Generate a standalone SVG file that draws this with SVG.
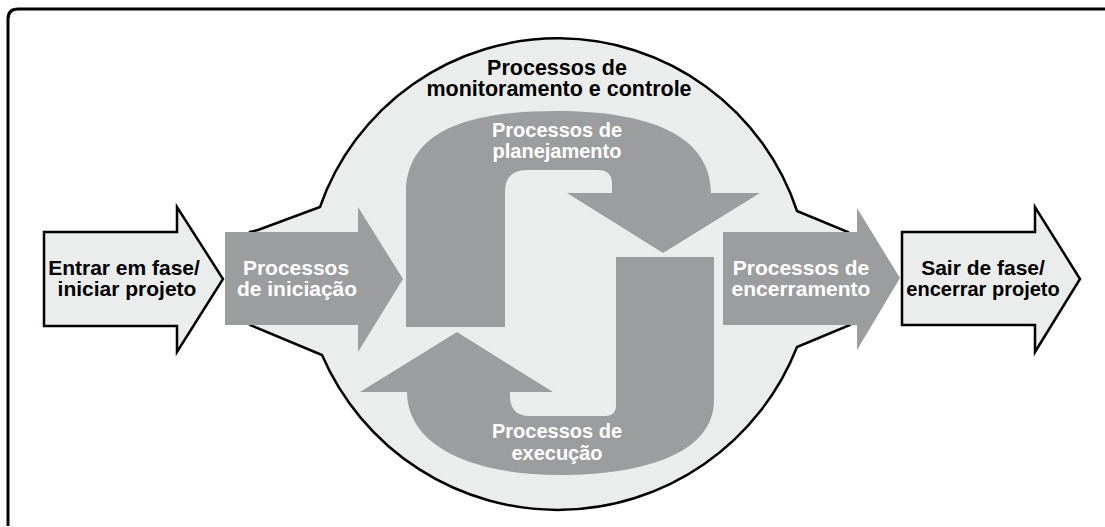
<svg xmlns="http://www.w3.org/2000/svg" width="1105" height="527" viewBox="0 0 1105 527">
<style>
.frame{fill:none;stroke:#000;stroke-width:3}
.light{fill:#ebedec;stroke:#000;stroke-width:2.5;stroke-linejoin:miter}
.gray{fill:#9c9d9f;stroke:none}
.t{font-family:"Liberation Sans",Arial,sans-serif;font-weight:bold;font-size:21px;text-anchor:middle}
.tb{fill:#000}
.tw{fill:#fff}
</style>
<path class="frame" d="M8,526 L8,19 Q8,9 18,9 L1105,9"/>
<g id="monitoramento">
<path class="light" d="M250,232 L258,230 L320,207 A252 252 0 0 1 797,211 L848,232 L850,325 L797,347 A257 257 0 0 1 322,355 L250,325 Z"/>
<text class="t tb" style="font-size:21.5px" x="557" y="75">Processos de</text>
<text class="t tb" style="font-size:21.5px" x="559" y="96">monitoramento e controle</text>
</g>
<g id="planejamento">
<path class="gray" d="M406,327 L406,193 C406,125 480,111 557,111 C648,111 711,135 711,193 L760,193 L663,253 L567,193 L612,193 L612,184 Q612,170 598,170 L527,170 Q505,170 505,192 L505,327 Z"/>
<text class="t tw" style="font-size:20px" x="557" y="137">Processos de</text>
<text class="t tw" style="font-size:20px" x="557" y="158">planejamento</text>
</g>
<g id="execucao">
<path class="gray" d="M360,392 L457,332 L553,392 L510,392 L510,396 Q510,416 530,416 L605,416 Q616,416 616,405 L616,257 L714,257 L714,400 C714,455 640,475 560,475 C470,475 407,445 407,392 Z"/>
<text class="t tw" style="font-size:20px" x="557" y="438">Processos de</text>
<text class="t tw" style="font-size:20px" x="557" y="460">execução</text>
</g>
<g id="entrar">
<path class="light" d="M44,232 L177,232 L177,207 L223,279 L177,352 L177,326 L44,326 Z"/>
<text class="t tb" x="124" y="275">Entrar em fase/</text>
<text class="t tb" x="127" y="296">iniciar projeto</text>
</g>
<g id="iniciacao">
<path class="gray" d="M225,232 L358,232 L358,207 L403,279 L358,352 L358,325 L225,325 Z"/>
<text class="t tw" x="296" y="275">Processos</text>
<text class="t tw" x="297" y="296">de iniciação</text>
</g>
<g id="encerramento">
<path class="gray" d="M723,232 L857,232 L857,208 L900,278 L857,350 L857,325 L723,325 Z"/>
<text class="t tw" x="801" y="275">Processos de</text>
<text class="t tw" x="801" y="296">encerramento</text>
</g>
<g id="sair">
<path class="light" d="M902,232 L1035,232 L1035,207 L1080,279 L1035,352 L1035,325 L902,325 Z"/>
<text class="t tb" x="983" y="275">Sair de fase/</text>
<text class="t tb" style="font-size:20px" x="983" y="296">encerrar projeto</text>
</g>
<g id="connectors"></g>
</svg>
